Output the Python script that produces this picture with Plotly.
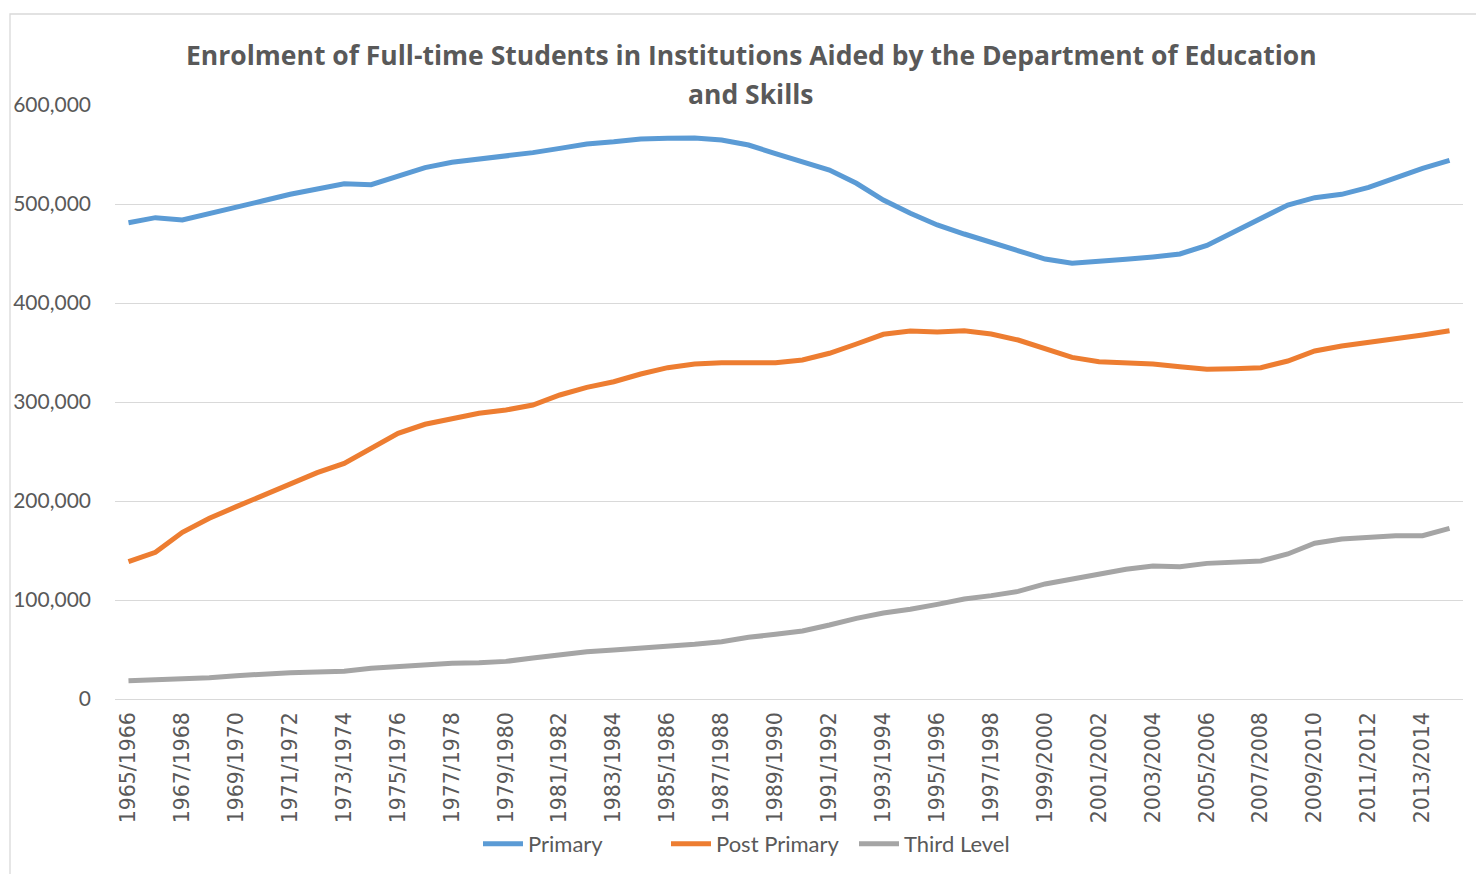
import plotly.graph_objects as go

years = [f"{y}/{y+1}" for y in range(1965, 2015)]

primary = [481100, 486200, 483800, 489900, 496700, 503300, 509800, 515200, 520500, 519500,
           528300, 536700, 542100, 545500, 547800, 551900, 556200, 560600, 562800, 565700,
           566300, 566700, 564600, 559600, 550800, 542700, 534300, 520900, 504000, 490600,
           478800, 469700, 460900, 452500, 444400, 440100, 441700, 444100, 446500, 449500,
           458200, 471700, 486200, 499000, 506400, 509800, 516800, 526600, 536000, 544100]

post_primary = [138700, 148200, 168400, 182500, 194300, 206100, 217900, 228600, 238000, 253800,
                268400, 277500, 283500, 288600, 291900, 297000, 307100, 314800, 320500, 328300,
                334700, 338400, 339700, 339100, 339700, 342400, 349200, 358600, 368400, 371700,
                370700, 372000, 368700, 362600, 354200, 345100, 340700, 340100, 338400, 335700,
                333000, 333700, 334700, 341400, 351500, 356600, 359900, 363300, 367700, 372000]

third_level = [18500, 19200, 19900, 21500, 23500, 25600, 26600, 27300, 28000, 31000,
               33000, 34700, 36000, 36700, 38000, 41400, 44400, 47800, 49500, 51200,
               53900, 55200, 57900, 62300, 65300, 68700, 74700, 81500, 86900, 90600,
               95600, 101000, 104400, 108700, 116200, 120900, 125900, 131000, 134300, 133600,
               137000, 138400, 139400, 146500, 157300, 161600, 163300, 165000, 165000, 172400]

series = [("Primary", primary, "#5B9BD5"),
          ("Post Primary", post_primary, "#ED7D31"),
          ("Third Level", third_level, "#A5A5A5")]

title_lines = ["Enrolment of Full-time Students in Institutions Aided by the Department of Education",
               "and Skills"]

fig = go.Figure()
for name, vals, color in series:
    fig.add_trace(go.Scatter(x=years, y=vals, name=name, mode="lines",
                             line=dict(color=color, width=5)))

# the page body has an 8px margin: work in figure coordinates (page - 8)
OFF = 8
W, H = 1484 - OFF, 874 - OFF
L, R, T, B = 115 - OFF, 1463 - OFF, 105 - OFF, 699 - OFF


def px_x(p):
    return (p - OFF - L) / (R - L)


def px_y(p):
    return (B - (p - OFF)) / (B - T)


fig.update_layout(
    width=W, height=H,
    margin=dict(l=L, r=W - R, t=T, b=H - B, autoexpand=False),
    paper_bgcolor="white", plot_bgcolor="white",
    font=dict(family="Lato", color="#595959"),
    legend=dict(orientation="h", x=px_x(478), xanchor="left",
                y=px_y(844), yanchor="middle",
                font=dict(family="Lato", size=22, color="#595959"),
                itemwidth=40, tracegroupgap=0, entrywidth=133, entrywidthmode="pixels"),
    showlegend=True,
)

for text, yc in zip(title_lines, [55, 94]):
    fig.add_annotation(text=text, x=px_x(751), y=px_y(yc), xref="paper", yref="paper",
                       xanchor="center", yanchor="middle", showarrow=False,
                       font=dict(family="Open Sans", size=26.5, color="#595959", weight="bold"))

fig.update_xaxes(type="category", range=[-0.5, len(years) - 0.5], automargin=False,
                 tickmode="array", tickvals=years[::2], ticktext=years[::2],
                 tickangle=-90, tickfont=dict(family="DejaVu Sans", size=20.5, color="#595959"),
                 showgrid=False, showline=False, ticks="", ticklen=0, zeroline=False,
                 ticklabelstandoff=8)

fig.update_yaxes(range=[0, 600000], tickmode="array", automargin=False,
                 tickvals=[0, 100000, 200000, 300000, 400000, 500000, 600000],
                 ticktext=["0", "100,000", "200,000", "300,000", "400,000", "500,000", "600,000"],
                 tickfont=dict(family="Lato", size=21, color="#595959"),
                 showgrid=True, gridcolor="#D9D9D9", gridwidth=1.3,
                 zeroline=True, zerolinecolor="#D9D9D9", zerolinewidth=1.3,
                 showline=False, ticks="", ticklabelstandoff=23)

# chart area border
fig.add_shape(type="rect", xref="paper", yref="paper",
              x0=px_x(10), x1=px_x(1520), y0=px_y(900), y1=px_y(14),
              line=dict(color="#D9D9D9", width=1.3), layer="below")

fig.write_html("out.html")
